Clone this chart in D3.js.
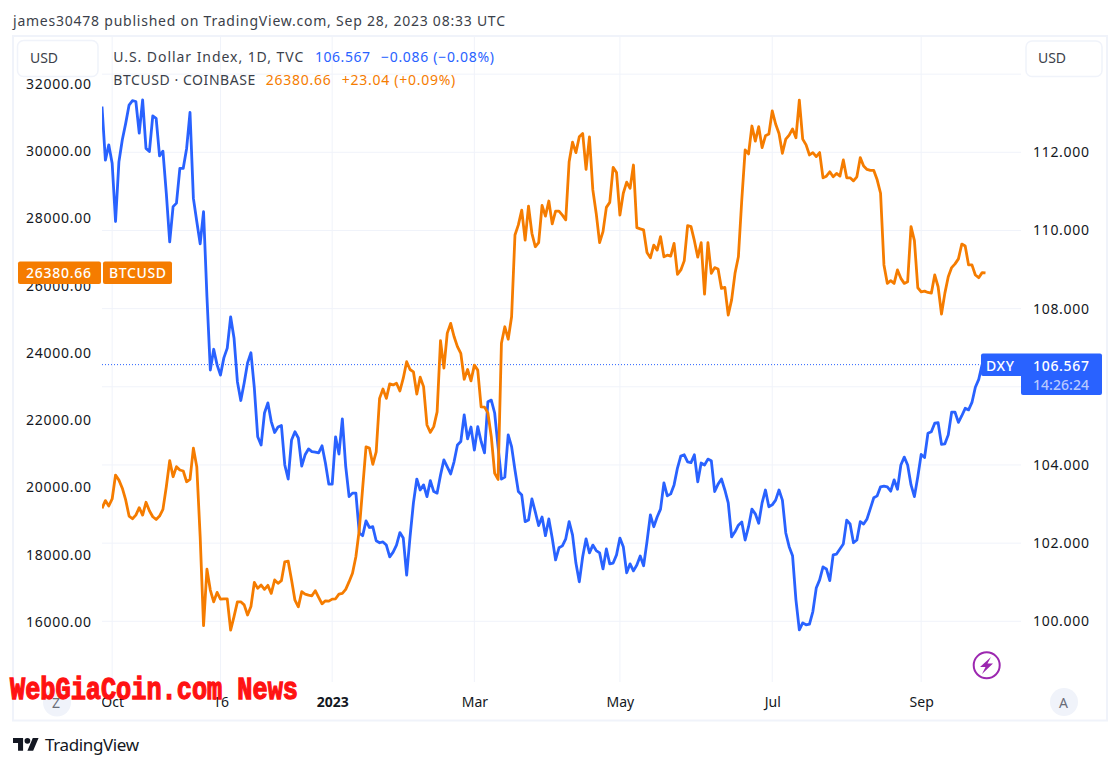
<!DOCTYPE html>
<html>
<head>
<meta charset="utf-8">
<script src="https://cdn.jsdelivr.net/npm/d3@7/dist/d3.min.js"></script>
<style>
html,body{margin:0;padding:0;background:#fff;overflow:hidden}
svg{display:block}
text{font-family:"Noto Sans",sans-serif}
</style>
</head>
<body>
<div id="chart"></div>
<script>
const dxyValues = [113.17,111.80,112.19,111.72,110.23,111.76,112.32,112.74,113.21,113.32,113.30,112.49,113.34,112.10,112.02,112.93,112.87,111.91,112.03,110.95,
109.71,110.61,110.70,111.59,111.59,112.10,113.02,110.82,110.23,109.66,110.48,108.31,106.43,106.96,106.56,106.30,106.74,106.99,107.79,107.25,
106.13,105.65,106.10,106.61,106.87,105.97,104.72,104.51,105.33,105.59,105.11,104.83,104.97,105.01,104.00,103.64,104.64,104.85,104.69,103.97,
104.26,104.41,104.34,104.33,104.31,104.49,104.05,103.51,103.51,104.72,104.28,105.18,103.96,103.19,103.28,103.28,102.26,102.19,102.57,102.40,
102.42,102.06,102.01,102.03,101.95,101.65,101.77,101.95,102.27,102.13,101.18,102.16,103.03,103.64,103.36,103.49,103.19,103.60,103.32,103.28,
103.74,104.13,103.95,103.77,104.08,104.51,104.60,105.28,104.67,104.97,104.38,104.98,104.60,104.31,105.62,105.66,105.33,104.47,103.64,103.69,
104.77,104.47,103.87,103.32,103.23,102.55,102.59,103.13,102.80,102.45,102.67,102.19,102.62,102.13,101.57,101.88,101.93,102.11,102.55,102.21,
101.49,101.01,101.65,102.11,101.75,101.95,101.81,101.75,101.34,101.85,101.47,101.49,101.70,102.13,101.91,101.24,101.47,101.29,101.44,101.67,
101.42,102.04,102.72,102.42,102.67,102.87,103.54,103.21,103.26,103.49,103.92,104.23,104.26,104.08,104.06,104.26,103.57,104.05,104.00,104.15,
104.11,103.32,103.51,103.64,103.36,103.03,102.16,102.29,102.46,102.54,102.08,102.42,102.87,102.75,102.51,103.03,103.36,102.93,102.98,103.10,
103.36,103.10,102.26,101.91,101.68,100.55,99.78,99.96,99.91,99.93,100.25,100.85,101.06,101.39,101.34,101.04,101.70,101.72,101.85,101.98,
102.59,102.49,102.01,102.08,102.55,102.49,102.62,102.89,103.16,103.21,103.44,103.46,103.44,103.33,103.62,103.38,104.00,104.20,104.00,103.49,
103.19,103.70,104.27,104.19,104.81,104.85,105.07,105.08,104.53,104.54,104.77,105.35,105.35,105.09,105.26,105.45,105.41,105.60,105.99,106.19,106.567];

const btcValues = [19380,19610,19450,19660,20370,20220,19980,19630,19150,19070,19180,19400,19180,19560,19310,19130,19050,19150,19350,20020,
20800,20320,20620,20520,20490,20170,20240,21170,20620,18540,15890,17570,16950,16600,16880,16680,16690,16690,15760,16160,
16600,16600,16510,16210,16460,17180,17000,17100,16970,17090,16850,17250,17150,17230,17790,17810,17250,16650,16450,16900,
16830,16800,16780,16930,16730,16540,16630,16620,16680,16690,16830,16850,16970,17200,17450,17940,18740,19980,21210,21170,
20690,21060,22650,22930,22650,23080,23050,23100,22870,23250,23740,23510,23440,22780,23280,23000,21860,21640,21810,22250,
24370,23550,24590,24880,24490,24190,23990,23220,23510,23170,23640,23490,22400,22390,22220,21510,20420,20240,24290,24780,
24410,25080,27510,27810,28250,27360,28370,27560,27160,27280,28390,28070,28520,27840,28220,28220,28100,27960,29690,30270,
29960,30430,30530,29460,30430,28850,28150,27280,27610,28330,28480,29520,29370,28100,28750,29080,28900,29590,27730,27690,
27660,26990,26830,27210,27060,27460,26860,26910,26880,27260,26340,26470,26740,27790,27760,27340,26850,27280,25750,27280,
26370,26540,26500,25920,25950,25130,25580,26370,26860,28550,30040,29920,30750,30300,30730,30110,30460,30510,31200,30810,
30530,29940,30360,30480,30660,30400,31520,30360,30190,29890,29960,29840,29960,29210,29260,29390,29240,29340,29260,29740,
29210,29210,29120,29240,29810,29560,29460,29430,29430,29150,28750,26620,26070,26150,26070,26470,26220,26070,26120,27760,
27340,25940,25820,25840,25800,25780,26320,25970,25160,25780,26270,26540,26650,26800,27240,27180,26620,26620,26320,26240,26390,26380.66];

const timeTickIndex = [3,35,68,110,153,198,242];
const timeTickLabels = ["Oct","16","2023","Mar","May","Jul","Sep"];
const dxyTicks = [100,102,104,106,108,110,112,114];
const btcTicks = [16000,18000,20000,22000,24000,26000,28000,30000,32000];

const blue="#2962ff", orange="#f57c00", grid="#f0f3fa", ink="#131722", head="#3b3f4a";

const svg=d3.select("#chart").append("svg").attr("width",1120).attr("height",768);

const x=d3.scaleLinear().domain([0,261]).range([102,985.5]);
const yDxy=d3.scaleLinear().domain([100,112]).range([621.3,152.3]);
const yBtc=d3.scaleLinear().domain([16000,32000]).range([622,84]);

function label(txt,px,py,len,fill,size,weight){
  const t=svg.append("text").attr("x",px).attr("y",py).attr("fill",fill).attr("font-size",size||14)
    .attr("font-weight",weight||400).text(txt);
  if(len) t.attr("textLength",len).attr("lengthAdjust","spacing");
  return t;
}

// frame
svg.append("rect").attr("x",13).attr("y",36).attr("width",1094).attr("height",684.5)
  .attr("fill","#fff").attr("stroke",grid).attr("stroke-width",2);

// grid
const gridG=svg.append("g");
gridG.selectAll("line.h").data(dxyTicks).join("line").attr("class","h")
  .attr("x1",102).attr("x2",1021).attr("y1",d=>yDxy(d)).attr("y2",d=>yDxy(d))
  .attr("stroke",grid);
gridG.selectAll("line.v").data(timeTickIndex).join("line").attr("class","v")
  .attr("x1",d=>x(d)).attr("x2",d=>x(d)).attr("y1",37).attr("y2",682).attr("stroke",grid);

svg.append("defs").append("clipPath").attr("id","pane").append("rect")
  .attr("x",102).attr("y",37).attr("width",919).attr("height",683);

// round buttons sit under the time labels
svg.append("circle").attr("cx",57).attr("cy",702.5).attr("r",14).attr("fill",grid);
label("Z",52,708,0,"#6a6d78",14);
svg.append("circle").attr("cx",1064).attr("cy",702).attr("r",14).attr("fill",grid);
label("A",1059,707.5,0,"#6a6d78",14);

// axes
const axL=svg.append("g").attr("transform","translate(91,0)")
  .call(d3.axisLeft(yBtc).tickValues(btcTicks).tickSize(0).tickPadding(0).tickFormat(d3.format(".2f")));
const axR=svg.append("g").attr("transform","translate(1033,0)")
  .call(d3.axisRight(yDxy).tickValues(dxyTicks.slice(0,7)).tickSize(0).tickPadding(0).tickFormat(d3.format(".3f")));
const axB=svg.append("g").attr("clip-path","url(#pane)").append("g").attr("transform","translate(0,702)")
  .call(d3.axisBottom(x).tickValues(timeTickIndex).tickSize(0).tickPadding(0).tickFormat((d,i)=>timeTickLabels[i]));
[axL,axR,axB].forEach(a=>{a.select(".domain").remove();
  a.selectAll("text").attr("fill",ink).attr("font-size",14).attr("font-family",'"Noto Sans",sans-serif');});
axL.selectAll("text").attr("textLength",65).attr("lengthAdjust","spacing");
axR.selectAll("text").attr("textLength",56).attr("lengthAdjust","spacing");
axB.selectAll("text").attr("dy","0.36em").attr("y",0);
axB.selectAll("text").filter((d,i)=>timeTickLabels[i]==="2023").attr("font-weight",700);

// price line
svg.append("line").attr("x1",102).attr("x2",981).attr("y1",yDxy(106.567)).attr("y2",yDxy(106.567))
  .attr("stroke",blue).attr("stroke-width",1).attr("stroke-dasharray","1 2");

// series
const lineOf=(vals,y)=>d3.line().x((d,i)=>x(i)).y(d=>y(d)).curve(d3.curveLinear)(vals);
const pane=svg.append("g").attr("clip-path","url(#pane)");
pane.append("path").attr("d",lineOf(dxyValues,yDxy)).attr("fill","none").attr("stroke",blue)
  .attr("stroke-width",2.8).attr("stroke-linejoin","round");
pane.append("path").attr("d",lineOf(btcValues,yBtc)).attr("fill","none").attr("stroke",orange)
  .attr("stroke-width",2.8).attr("stroke-linejoin","round");

// header
label("james30478 published on TradingView.com, Sep 28, 2023 08:33 UTC",13,26,492,head,14);

// buttons
[[17.5,40.5,80.5,36],[1026,41,76,35.5]].forEach((b,i)=>{
  svg.append("rect").attr("x",b[0]).attr("y",b[1]).attr("width",b[2]).attr("height",b[3]).attr("rx",6)
    .attr("fill","#fff").attr("stroke",grid).attr("stroke-width",1.5);
  label("USD",i?1038:30,63,28,head,14);
});

// legend
label("U.S. Dollar Index, 1D, TVC",113.3,62,190,head,14);
label("106.567",315,62,55,blue,14);
label("\u22120.086 (\u22120.08%)",381,62,113,blue,14);
label("BTCUSD \u00b7 COINBASE",113.3,85,142,head,14);
label("26380.66",265.7,85,65,orange,14);
label("+23.04 (+0.09%)",341.7,85,113.5,orange,14);

// BTC tags
svg.append("rect").attr("x",18).attr("y",261.5).attr("width",83).attr("height",22.5).attr("rx",2).attr("fill",orange);
svg.append("rect").attr("x",103).attr("y",261.5).attr("width",69).attr("height",22.5).attr("rx",2).attr("fill",orange);
label("26380.66",26,278,65,"#fff",14,500);
label("BTCUSD",109,278,57,"#fff",14,500);

// DXY tag
svg.append("rect").attr("x",981).attr("y",353.5).attr("width",121).attr("height",22.5).attr("rx",2).attr("fill",blue);
svg.append("rect").attr("x",1021).attr("y",370).attr("width",81).attr("height",25).attr("rx",2).attr("fill",blue);
label("DXY",986,371,28,"#fff",14,500);
label("106.567",1033,371,56,"#fff",14,500);
label("14:26:24",1033,390,56,"#b8c9ff",14,500);

// bolt badge
svg.append("circle").attr("cx",986.7).attr("cy",665.3).attr("r",13).attr("fill","#fff").attr("stroke","#9c27b0").attr("stroke-width",2);
svg.append("path").attr("d","M991 657 L980 667 L985.5 667 L982 674 L993 663.5 L987.5 663.5 Z").attr("fill","#9c27b0");

// watermark
svg.append("text").attr("x",10).attr("y",698.5).attr("fill","#ff1212").attr("font-size",31).attr("font-weight",700)
  .style("font-family","'Liberation Mono',monospace").attr("textLength",288).attr("lengthAdjust","spacingAndGlyphs")
  .attr("stroke","#ff1212").attr("stroke-width",1.3).text("WebGiaCoin.com News");

// logo
const logo=svg.append("g").attr("transform","translate(13,735) scale(0.72)").attr("fill",ink);
logo.append("path").attr("d","M14 22H7V11H0V4h14v18zM28 22h-8l7.5-18h8L28 22z");
logo.append("circle").attr("cx",20).attr("cy",8).attr("r",4);
label("TradingView",45,751,94,ink,17);
</script>
</body>
</html>
